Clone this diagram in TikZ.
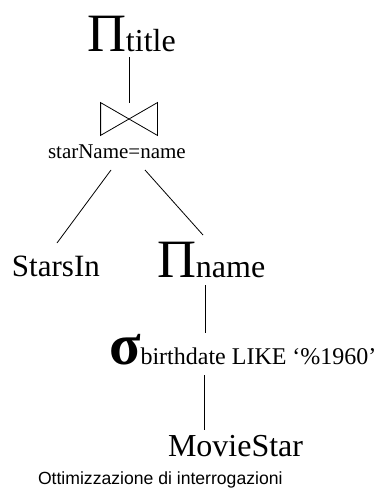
\documentclass[tikz,border=0pt]{standalone}
\usepackage{fontspec}
\setmainfont{Liberation Serif}
\newfontfamily\arialfont{Liberation Sans}
\newcommand\fsz[1]{\fontsize{#1}{#1}\selectfont}
\begin{document}
\begin{tikzpicture}[x=1pt,y=-1pt,line width=0.8pt,
  lbl/.style={inner sep=0pt,outer sep=0pt,anchor=base west}]
\useasboundingbox (0,0) rectangle (377,489);
\node[lbl] (ptitle) at (87,52) {\fsz{54}Π\fsz{32}title};
\node[minimum width=56pt,minimum height=32pt,inner sep=0pt] (join) at (129,119) {};
\draw (join.north west) -- (join.south east) -- (join.north east) -- (join.south west) -- cycle;
\node[lbl] (cond) at (48,158) {\fsz{21}starName=name};
\node[lbl] (starsin) at (12,276) {\fsz{31}StarsIn};
\node[lbl] (pname) at (157,277) {\fsz{54}Π\fsz{32}name};
\node[lbl] (sigma) at (109,364) {\fsz{58}\bfseries σ\mdseries\fsz{24}birthdate LIKE ‘\%1960’};
\node[lbl] (movie) at (168,456) {\fsz{32}MovieStar};
\node[lbl] (foot) at (38,484) {\arialfont\fsz{17.6}Ottimizzazione di interrogazioni};
\coordinate (t1) at (129,57);
\coordinate (l1) at (111,170);
\coordinate (l2) at (57,243);
\coordinate (r1) at (145,170);
\coordinate (r2) at (203,235);
\coordinate (n1) at (205,285);
\coordinate (n2) at (205,333);
\coordinate (s1) at (204,375);
\coordinate (s2) at (204,430);
\draw (t1) -- (join.north);
\draw (l1) -- (l2);
\draw (r1) -- (r2);
\draw (n1) -- (n2);
\draw (s1) -- (s2);
\end{tikzpicture}
\end{document}
